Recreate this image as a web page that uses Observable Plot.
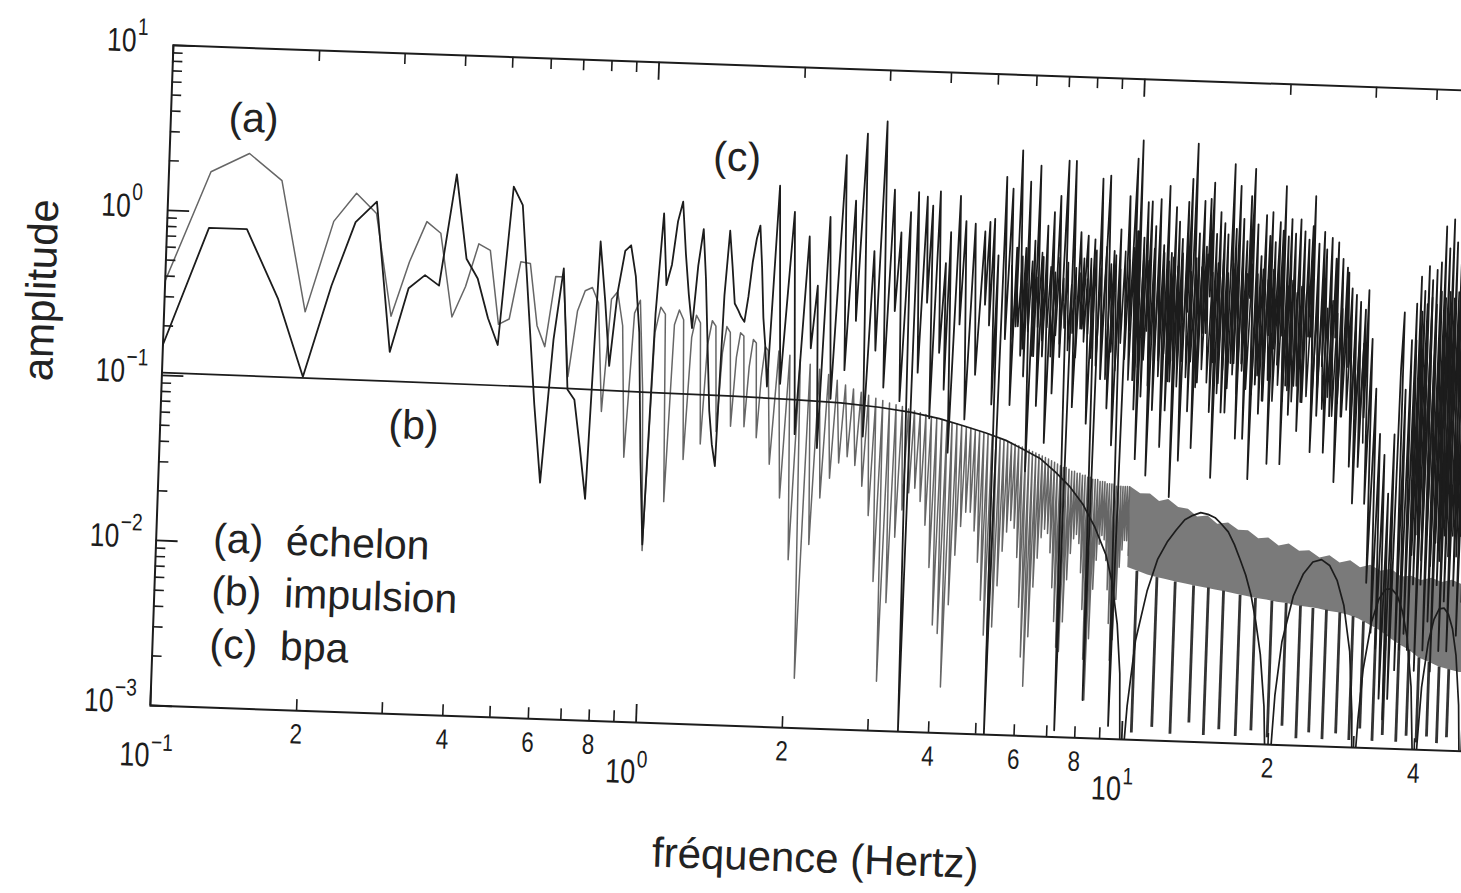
<!DOCTYPE html>
<html><head><meta charset="utf-8">
<script src="https://cdn.jsdelivr.net/npm/d3@7"></script>
<script src="https://cdn.jsdelivr.net/npm/@observablehq/plot@0.6"></script>
<style>
html,body{margin:0;padding:0;background:#fff;overflow:hidden;width:1461px;height:893px;}
#fig{position:absolute;left:0;top:0;width:1480px;height:893px;transform:rotate(2deg);transform-origin:802.5px 397.5px;}
#fig svg text{white-space:pre;}
</style></head><body><div id="fig"></div>
<script>
// ---------- DATA ----------
// DFT bins at low frequency (Hz)
const fBins = [0.098,0.122,0.146,0.171,0.195,0.220,0.244,0.269,0.293,0.317,
0.342,0.366,0.391,0.415,0.439,0.464,0.488,0.513,0.537,0.562,
0.586,0.610,0.635,0.659,0.684,0.708,0.732,0.757,0.781,0.806,
0.830,0.854,0.879,0.903,0.928,0.952,0.977,1.000,1.025,1.050,
1.074,1.099,1.123,1.147,1.172,1.196,1.221,1.245,1.270,1.294,
1.318,1.343,1.367,1.392,1.416,1.440,1.465,1.489,1.514,1.538,
1.563,1.587,1.611,1.636,1.660,1.685,1.709,1.733,1.758];
// (a) échelon, amplitude at those bins
const stepLow = [0.32,1.75,2.3,1.6,0.26,0.93,1.39,1.06,0.255,0.55,
0.97,0.83,0.26,0.40,0.73,0.67,0.24,0.26,0.58,0.57,
0.24,0.18,0.48,0.48,0.12,0.30,0.40,0.42,0.34,0.075,
0.36,0.40,0.25,0.04,0.30,0.36,0.10,0.011,0.23,0.33,
0.30,0.022,0.26,0.32,0.28,0.04,0.22,0.30,0.27,0.05,
0.20,0.28,0.26,0.06,0.18,0.26,0.24,0.065,0.17,0.24,
0.23,0.065,0.15,0.22,0.21,0.056,0.13,0.20,0.19];
// (c) bpa, amplitude at those bins
const bpaLow = [0.13,0.8,0.8,0.31,0.105,0.38,0.93,1.25,0.155,0.38,
0.46,0.40,1.9,0.59,0.45,0.26,0.18,1.65,1.28,0.3,
0.08,0.027,0.2,0.54,0.1,0.087,0.045,0.022,0.8,0.35,
0.142,0.4,0.71,0.77,0.5,0.23,0.04,0.012,0.3,1.22,
0.45,0.6,1.1,1.45,0.7,0.4,0.25,0.6,1.0,0.5,
0.2,0.08,0.05,0.037,0.4,0.99,0.6,0.36,0.33,0.3,
0.28,0.4,0.65,0.9,1.08,0.6,0.3,0.2,0.115];

// (a) échelon, 1.8–10 Hz comb [Hz, amplitude]
const stepComb = [
[1.80,0.039],[1.85,0.19],[1.90,0.0245],[1.95,0.18],[2.00,0.0104],[2.05,0.17],[2.10,0.002],[2.15,0.16],[2.20,0.013],[2.25,0.15],
[2.30,0.025],[2.35,0.14],[2.40,0.033],[2.45,0.13],[2.50,0.041],[2.55,0.122],[2.60,0.045],[2.65,0.116],[2.70,0.04],[2.75,0.111],
[2.80,0.03],[2.85,0.107],[2.90,0.02],[2.95,0.103],[3.00,0.008],[3.05,0.1],[3.10,0.002],[3.15,0.097],[3.20,0.006],[3.25,0.095],
[3.30,0.015],[3.35,0.093],[3.40,0.022],[3.45,0.09],[3.50,0.028],[3.55,0.088],[3.60,0.03],[3.65,0.086],[3.70,0.025],[3.75,0.084],
[3.80,0.018],[3.85,0.082],[3.90,0.01],[3.95,0.08],[4.00,0.0045],[4.05,0.079],[4.10,0.004],[4.15,0.077],[4.20,0.0019],[4.25,0.076],
[4.30,0.006],[4.35,0.075],[4.40,0.012],[4.45,0.073],[4.50,0.018],[4.55,0.072],[4.60,0.022],[4.65,0.071],[4.70,0.022],[4.75,0.069],
[4.80,0.017],[4.85,0.068],[4.90,0.011],[4.95,0.067],[5.00,0.0065],[5.05,0.066],[5.10,0.004],[5.15,0.064],[5.20,0.0025],[5.25,0.063],
[5.30,0.0045],[5.35,0.062],[5.40,0.008],[5.45,0.061],[5.50,0.013],[5.55,0.06],[5.60,0.017],[5.65,0.059],[5.70,0.02],[5.75,0.058],
[5.80,0.018],[5.85,0.057],[5.90,0.012],[5.95,0.056],[6.00,0.006],[6.05,0.055],[6.10,0.003],[6.15,0.054],[6.20,0.002],[6.25,0.053],
[6.30,0.004],[6.35,0.052],[6.40,0.008],[6.45,0.051],[6.50,0.012],[6.55,0.05],[6.60,0.016],[6.65,0.049],[6.70,0.018],[6.75,0.048],
[6.80,0.017],[6.85,0.047],[6.90,0.013],[6.95,0.046],[7.00,0.008],[7.05,0.045],[7.10,0.005],[7.15,0.044],[7.20,0.0035],[7.25,0.043],
[7.30,0.0033],[7.35,0.043],[7.40,0.005],[7.45,0.042],[7.50,0.009],[7.55,0.041],[7.60,0.013],[7.65,0.041],[7.70,0.016],[7.75,0.04],
[7.80,0.017],[7.85,0.04],[7.90,0.015],[7.95,0.039],[8.00,0.01],[8.05,0.039],[8.10,0.006],[8.15,0.038],[8.20,0.003],[8.25,0.038],
[8.30,0.0017],[8.35,0.037],[8.40,0.004],[8.45,0.037],[8.50,0.008],[8.55,0.037],[8.60,0.012],[8.65,0.036],[8.70,0.015],[8.75,0.036],
[8.80,0.017],[8.85,0.036],[8.90,0.016],[8.95,0.035],[9.00,0.012],[9.05,0.035],[9.10,0.008],[9.15,0.035],[9.20,0.005],[9.25,0.035],
[9.30,0.003],[9.35,0.034],[9.40,0.004],[9.45,0.034],[9.50,0.007],[9.55,0.034],[9.60,0.011],[9.65,0.034],[9.70,0.014],[9.75,0.034],
[9.80,0.016],[9.85,0.034],[9.90,0.016],[9.95,0.034],[10.00,0.013]];

// (a) échelon, 10–50 Hz dense band
const stepBandFreq = [10,10.5,11,11.5,12,12.6,13.2,13.8,14.5,15.2,16,16.8,17.6,18.5,19.4,20.4,21.4,22.5,23.6,24.8,26,27.3,28.7,30.1,31.6,33.2,34.9,36.6,38.4,40.3,42.3,44.4,46.6,48.9,50];
const stepBandTop = [0.034,0.031,0.031,0.028,0.029,0.026,0.0255,0.023,0.0235,0.021,0.0215,0.0195,0.0195,0.0175,0.0178,0.016,0.0165,0.015,0.0152,0.0138,0.0143,0.013,0.0135,0.0123,0.0128,0.0118,0.0122,0.011,0.0112,0.0106,0.011,0.0104,0.0108,0.0102,0.0104];
const stepBandLow = [0.011,0.0105,0.01,0.0097,0.0095,0.0092,0.009,0.0088,0.0086,0.0084,0.0082,0.008,0.0078,0.0076,0.0075,0.0073,0.0072,0.007,0.0069,0.0068,0.0066,0.0065,0.0063,0.006,0.0056,0.0052,0.0047,0.0043,0.004,0.0036,0.0034,0.0032,0.0031,0.003,0.003];
// (a) échelon, deep notches above 10 Hz
const stepToothFreq = [10.45,11.5,12.55,13.7,14.7,15.8,17.1,18.4,19.9,21.3,22.8,24.2,25.8,27.5,29.3,30.8,32.7,34.3,36.6,38.4,40.3,42.3,44.4,46.5];
const stepToothTop = [0.0105,0.0097,0.0092,0.0088,0.0086,0.0083,0.0079,0.0076,0.0074,0.0072,0.007,0.0068,0.0067,0.0065,0.0062,0.0058,0.0053,0.0049,0.0043,0.004,0.0036,0.0034,0.0032,0.0031];
const stepToothBottom = [0.0011,0.0012,0.0011,0.0013,0.0011,0.0012,0.0011,0.0012,0.0011,0.0013,0.0011,0.0012,0.0011,0.0012,0.0011,0.0013,0.0011,0.0012,0.0011,0.0012,0.0011,0.0012,0.0011,0.0012];

// (c) bpa, 1.8–50 Hz [Hz, amplitude]
const bpaDense = [
[1.81,1.9],[1.87,0.12],[1.95,1.33],[2.02,0.06],[2.10,0.95],[2.15,0.2],[2.20,0.48],[2.25,0.05],[2.31,1.26],[2.38,0.1],
[2.47,3.0],[2.53,0.15],[2.60,1.6],[2.65,0.3],[2.72,4.1],[2.79,0.06],[2.86,0.8],[2.92,0.2],[2.98,4.9],[3.05,0.12],
[3.12,1.9],[3.18,0.35],[3.24,1.05],[3.30,0.1],[3.38,1.4],[3.46,0.001],[3.50,1.86],[3.58,0.15],[3.65,1.75],[3.70,0.4],
[3.75,1.55],[3.81,0.08],[3.88,1.9],[3.95,0.2],[4.02,0.7],[4.06,0.12],[4.10,1.08],[4.18,0.05],[4.27,1.8],[4.33,0.3],
[4.40,1.27],[4.50,0.08],[4.60,1.23],[4.70,0.15],[4.82,1.11],[4.87,0.4],[4.93,1.27],[4.98,0.3],[5.04,1.33],[5.10,0.1],
[5.15,0.8],[5.20,0.001],[5.30,2.4],[5.38,0.25],[5.47,2.04],[5.56,0.1],[5.62,0.9],[5.65,0.3],[5.69,3.5],[5.80,0.2],
[5.87,0.9],[5.90,0.15],[5.94,2.27],[6.05,0.04],[6.12,1.0],[6.17,0.2],[6.22,2.85],[6.30,0.1],[6.38,0.8],[6.43,0.2],
[6.49,1.24],[6.58,0.06],[6.68,1.5],[6.77,0.12],[6.87,1.89],[6.98,0.2],[7.10,3.1],[7.25,0.0011],[7.35,3.1],[7.47,0.1],
[7.60,1.15],[7.73,0.3],[7.87,1.1],[8.00,0.08],[8.13,1.05],[8.25,0.0017],[8.36,2.45],[8.50,0.15],[8.67,2.57],[8.80,0.1],
[8.92,0.9],[9.05,0.06],[9.18,1.22],[9.35,0.0012],[9.53,1.95],[9.68,0.3],[9.84,3.3],[9.90,0.15],[9.95,1.2],[10.0,0.1],
[10.05,4.26],[10.15,0.05],[10.25,1.1],[10.32,0.12],[10.4,1.81],[10.5,0.3],[10.6,1.83],[10.7,0.04],[10.82,1.3],[10.92,0.1],
[11.05,1.9],[11.15,0.2],[11.27,1.0],[11.37,0.06],[11.5,2.29],[11.6,0.1],[11.7,0.9],[11.8,0.15],[11.9,1.71],[12.0,0.03],
[12.1,1.4],[12.2,0.2],[12.3,1.1],[12.45,0.05],[12.6,1.85],[12.7,0.4],[12.8,2.55],[12.9,0.1],[13.05,4.18],[13.2,0.06],
[13.32,1.2],[13.45,0.15],[13.6,1.89],[13.7,0.3],[13.8,1.0],[13.9,0.3],[14.0,1.95],[14.1,0.5],[14.2,2.45],[14.3,0.1],
[14.45,1.2],[14.55,0.04],[14.7,1.63],[14.85,0.15],[15.0,1.4],[15.12,0.1],[15.25,1.2],[15.4,0.1],[15.6,3.2],[15.72,0.2],
[15.85,1.3],[15.95,0.2],[16.1,2.37],[16.25,0.07],[16.4,1.5],[16.55,0.2],[16.7,1.1],[16.82,0.07],[16.95,2.07],[17.05,0.5],
[17.2,3.03],[17.35,0.04],[17.55,1.4],[17.7,0.15],[17.9,0.9],[18.05,0.1],[18.25,1.6],[18.4,0.12],[18.6,1.2],[18.7,0.3],
[18.8,1.67],[18.95,0.05],[19.1,1.1],[19.25,0.25],[19.5,1.46],[19.6,0.2],[19.8,1.3],[19.88,0.3],[19.95,2.42],[20.15,0.05],
[20.3,1.2],[20.45,0.15],[20.6,1.53],[20.8,0.1],[21.0,1.25],[21.25,0.15],[21.5,1.53],[21.7,0.08],[21.95,1.3],[22.15,0.12],
[22.4,1.16],[22.6,0.3],[22.8,1.4],[22.88,0.3],[22.96,2.13],[23.2,0.06],[23.5,1.1],[23.8,0.1],[24.1,1.3],[24.25,0.2],
[24.4,1.02],[24.7,0.06],[25.0,1.2],[25.3,0.1],[25.55,0.9],[25.7,0.3],[25.8,1.13],[26.1,0.04],[26.4,0.9],[26.7,0.1],
[27.0,0.8],[27.1,0.3],[27.2,0.745],[27.45,0.2],[27.7,0.6],[28.0,0.05],[28.3,0.55],[28.6,0.03],[28.9,0.5],[29.2,0.05],
[29.6,0.45],[29.8,0.1],[30.0,0.59],[30.3,0.03],[30.7,0.3],[31.0,0.01],[31.5,0.15],[31.9,0.005],[32.3,0.08],[32.7,0.004],
[33.1,0.06],[33.5,0.002],[33.9,0.035],[34.2,0.0015],[34.6,0.08],[34.9,0.002],[35.3,0.2],[35.6,0.44],[35.9,0.003],[36.2,0.15],
[36.6,0.004],[37.0,0.3],[37.3,0.005],[37.7,0.5],[38.0,0.004],[38.4,0.73],[38.7,0.01],[39.1,0.6],[39.4,0.003],[39.8,0.85],
[40.1,0.01],[40.5,0.7],[40.9,0.004],[41.3,0.81],[41.7,0.006],[42.1,0.9],[42.5,0.003],[42.9,1.49],[43.3,0.01],[43.7,1.1],
[44.1,0.004],[44.5,1.65],[44.9,0.008],[45.3,1.2],[45.8,0.004],[46.3,1.4],[46.8,0.01],[47.3,1.1],[47.8,0.005],[48.3,1.3],
[48.8,0.008],[49.3,1.0],[49.8,0.005]];
// (c) bpa, densely packed inner oscillations (dark core of the trace)
const bpaInner = [
[5.50,0.7],[5.57,0.25],[5.64,0.6],[5.71,0.3],[5.78,0.8],[5.85,0.22],[5.92,0.55],[5.99,0.28],[6.06,0.75],[6.13,0.2],
[6.20,0.6],[6.27,0.3],[6.34,0.85],[6.41,0.25],[6.48,0.55],[6.55,0.3],[6.62,0.7],[6.69,0.2],[6.76,0.65],[6.83,0.27],
[6.90,0.8],[6.97,0.24],[7.04,0.6],[7.11,0.3],[7.18,0.75],[7.25,0.22],[7.32,0.55],[7.39,0.28],[7.46,0.7],[7.53,0.2],
[7.60,0.65],[7.67,0.3],[7.74,0.8],[7.81,0.25],[7.88,0.6],[7.95,0.28],
[8.0,0.8],[8.1,0.2],[8.2,0.9],[8.3,0.18],[8.4,0.7],[8.5,0.25],[8.6,0.95],[8.7,0.15],[8.8,0.75],[8.9,0.22],
[9.0,0.85],[9.1,0.17],[9.2,0.7],[9.3,0.25],[9.4,0.9],[9.5,0.2],[9.6,0.8],[9.7,0.15],[9.8,0.95],[9.9,0.22],[10.0,0.75],
[10.13,0.18],[10.26,0.9],[10.39,0.2],[10.52,0.8],[10.65,0.14],[10.78,0.95],[10.91,0.2],[11.04,0.7],[11.17,0.16],[11.3,0.9],
[11.43,0.22],[11.56,0.8],[11.69,0.15],[11.82,0.85],[11.95,0.2],[12.08,0.75],[12.21,0.14],[12.34,0.9],[12.47,0.2],[12.6,0.8],
[12.73,0.16],[12.86,0.7],[12.99,0.2],
[13.17,0.85],[13.35,0.14],[13.53,0.75],[13.71,0.18],[13.89,0.9],[14.07,0.15],[14.25,0.7],[14.43,0.2],[14.61,0.8],[14.79,0.13],
[14.97,0.85],[15.15,0.18],[15.33,0.7],[15.51,0.14],[15.69,0.8],[15.87,0.17],[16.05,0.75],[16.23,0.13],[16.41,0.85],[16.59,0.18],
[16.77,0.7],[16.95,0.14],
[17.18,0.8],[17.41,0.13],[17.64,0.7],[17.87,0.17],[18.1,0.75],[18.33,0.12],[18.56,0.65],[18.79,0.16],[19.02,0.75],[19.25,0.12],
[19.48,0.6],[19.71,0.15],[19.94,0.7],[20.17,0.12],[20.4,0.6],[20.63,0.14],[20.86,0.65],[21.09,0.12],[21.32,0.55],[21.55,0.15],
[21.78,0.6],[22.01,0.12],
[22.3,0.55],[22.6,0.13],[22.9,0.6],[23.2,0.11],[23.5,0.5],[23.8,0.14],[24.1,0.55],[24.4,0.11],[24.7,0.45],[25.0,0.13],
[25.3,0.5],[25.6,0.1],[25.9,0.42],[26.2,0.12],[26.5,0.45],[26.8,0.1],[27.1,0.38],[27.4,0.11],[27.7,0.35],[28.0,0.09],
[28.3,0.33],[28.6,0.1],[28.9,0.3],[29.2,0.08],[29.5,0.28],[29.8,0.07]];
const bpaInnerHigh = [
[37.8,0.3],[38.25,0.015],[38.7,0.45],[39.15,0.02],[39.6,0.5],[40.05,0.014],[40.5,0.55],[40.95,0.02],[41.4,0.5],[41.85,0.013],
[42.3,0.6],[42.75,0.018],[43.2,0.55],[43.65,0.014],[44.1,0.6],[44.55,0.02],[45,0.55],[45.45,0.015],[45.9,0.6],[46.35,0.02],
[46.8,0.5],[47.25,0.015],[47.7,0.55],[48.15,0.02],[48.6,0.5],[49.05,0.015],[49.5,0.5],[49.95,0.02]];

// (b) impulsion [Hz, amplitude]
const impulse = [
[0.1,0.104],[0.3,0.103],[0.6,0.102],[1.0,0.1],[1.5,0.099],[2.0,0.097],[2.5,0.095],[3.0,0.091],[3.5,0.086],[4.0,0.08],
[4.5,0.073],[5.0,0.067],[5.5,0.061],[6.0,0.054],[6.5,0.048],[7.0,0.04],[7.5,0.033],[8.0,0.026],[8.5,0.019],[9.0,0.013],
[9.3,0.009],[9.6,0.005],[9.8,0.0025],[9.93,0.0008],[10.0,0.0005],[10.2,0.0016],[10.5,0.004],[11,0.008],[11.5,0.0125],[12,0.016],
[12.5,0.019],[13,0.022],[13.5,0.0235],[14,0.0245],[14.5,0.024],[15,0.023],[15.5,0.021],[16,0.019],[16.5,0.016],[17,0.013],
[17.5,0.0105],[18,0.008],[18.5,0.0055],[19,0.0035],[19.5,0.0017],[19.85,0.0006],[20.15,0.0006],[20.5,0.002],[21,0.0042],[22,0.008],
[23,0.011],[24,0.013],[25,0.0135],[26,0.0125],[27,0.0102],[28,0.0072],[29,0.0038],[29.6,0.0016],[29.9,0.0006],[30.1,0.0006],
[30.5,0.0015],[31,0.003],[32,0.0058],[33,0.008],[34,0.0092],[35,0.0093],[36,0.0085],[37,0.0068],[38,0.0047],[39,0.0024],
[39.6,0.001],[39.9,0.0005],[40.1,0.0005],[40.5,0.0011],[41,0.0024],[42,0.0045],[43,0.0062],[44,0.0072],[45,0.0073],[46,0.0067],
[47,0.0055],[48,0.0038],[49,0.0019],[49.6,0.0008],[50,0.0005]];

// axes
const xMajorTicks = [0.1,1,10];
const xMajorExp = ["\u22121","0","1"];
const xMinorTicks = [0.2,0.3,0.4,0.5,0.6,0.7,0.8,0.9,2,3,4,5,6,7,8,9,20,30,40];
const xLabelValues = [0.2,0.4,0.6,0.8,2,4,6,8,20,40];
const xLabelTexts = ["2","4","6","8","2","4","6","8","2","4"];
const yMajorTicks = [0.001,0.01,0.1,1,10];
const yMajorExp = ["\u22123","\u22122","\u22121","0","1"];
const yMinorTicks = [0.002,0.003,0.004,0.005,0.006,0.007,0.008,0.009,0.02,0.03,0.04,0.05,0.06,0.07,0.08,0.09,0.2,0.3,0.4,0.5,0.6,0.7,0.8,0.9,2,3,4,5,6,7,8,9];

// annotations
const curveLabels = ["(a)","(b)","(c)"];
const curveLabelF = [0.148,0.332,1.47];
const curveLabelAmp = [3.74,0.056,2.75];
const legendLines = ["(a)  échelon","(b)  impulsion","(c)  bpa"];
const legendF = [0.131,0.131,0.131];
const legendAmp = [0.0105,0.00505,0.00241];
const xTitle = "fréquence (Hertz)";
const yTitle = "amplitude";

// ---------- BUILD ----------
const W = 1480, H = 893, ML = 161, MT = 67, MR = 7.3, MB = 165.4;
const PW = W - ML - MR, PH = H - MT - MB;
const tickFont = "'Liberation Sans',Arial,sans-serif";
const sans = "'Liberation Sans',Arial,Helvetica,sans-serif";
const ink = "#1c1c1c";

const stepLine = fBins.map((f,i)=>({f, v: stepLow[i]})).concat(stepComb.map(([f,v])=>({f,v})));
const bpaLine = fBins.map((f,i)=>({f, v: bpaLow[i]})).concat(bpaDense.map(([f,v])=>({f,v})));
const bpaInnerLine = bpaInner.map(([f,v])=>({f,v}));
const bpaInnerHighLine = bpaInnerHigh.map(([f,v])=>({f,v}));
const impLine = impulse.map(([f,v])=>({f,v}));
const band = stepBandFreq.map((f,i)=>({f, lo: stepBandLow[i], hi: stepBandTop[i]}));
const teeth = stepToothFreq.map((f,i)=>({f, lo: stepToothBottom[i], hi: stepToothTop[i]}));

const tickLabel = {fontFamily: tickFont, fill: ink, className: "narrow"};

const chart = Plot.plot({
  width: W, height: H,
  marginLeft: ML, marginTop: MT, marginRight: MR, marginBottom: MB,
  x: {type: "log", domain: [0.1, 50], axis: null},
  y: {type: "log", domain: [0.001, 10], axis: null},
  style: {background: "#fff", color: ink, fontFamily: sans, overflow: "visible"},
  marks: [
    Plot.areaY(band, {x: "f", y1: "lo", y2: "hi", fill: "#7a7a7a", clip: true}),
    Plot.ruleX(teeth, {x: "f", y1: "lo", y2: "hi", stroke: "#333", strokeWidth: 2.8, clip: true}),
    Plot.line(stepLine, {x: "f", y: "v", stroke: "#666", strokeWidth: 1.5, clip: true}),
    Plot.line(bpaInnerLine, {x: "f", y: "v", stroke: ink, strokeWidth: 1.6, clip: true}),
    Plot.line(bpaInnerHighLine, {x: "f", y: "v", stroke: ink, strokeWidth: 1.6, clip: true}),
    Plot.line(bpaLine, {x: "f", y: "v", stroke: ink, strokeWidth: 1.8, clip: true}),
    Plot.line(impLine, {x: "f", y: "v", stroke: ink, strokeWidth: 1.7, clip: true}),
    Plot.frame({stroke: ink, strokeWidth: 2}),
    // x ticks (bottom and top, pointing inward)
    Plot.ruleX(xMinorTicks, {x: d => d, insetTop: PH - 11, stroke: ink, strokeWidth: 1.6}),
    Plot.ruleX(xMajorTicks, {x: d => d, insetTop: PH - 18, stroke: ink, strokeWidth: 1.8}),
    Plot.ruleX(xMinorTicks, {x: d => d, insetBottom: PH - 11, stroke: ink, strokeWidth: 1.6}),
    Plot.ruleX(xMajorTicks, {x: d => d, insetBottom: PH - 18, stroke: ink, strokeWidth: 1.8}),
    // y ticks (left, inward)
    Plot.ruleY(yMinorTicks, {y: d => d, insetRight: PW - 10, stroke: ink, strokeWidth: 1.6}),
    Plot.ruleY(yMajorTicks, {y: d => d, insetRight: PW - 22, stroke: ink, strokeWidth: 1.8}),
    // x tick labels
    Plot.text(xLabelValues, {x: d => d, text: (d, i) => xLabelTexts[i], frameAnchor: "bottom", lineAnchor: "middle", dy: 24, fontSize: 28, ...tickLabel}),
    Plot.text(xMajorTicks, {x: d => d, text: () => "10", frameAnchor: "bottom", textAnchor: "end", lineAnchor: "middle", dy: 50, dx: 1, fontSize: 34, ...tickLabel}),
    Plot.text(xMajorTicks, {x: d => d, text: (d, i) => xMajorExp[i], frameAnchor: "bottom", textAnchor: "start", lineAnchor: "middle", dy: 37, dx: 2, fontSize: 24, ...tickLabel}),
    // y tick labels
    Plot.text(yMajorTicks, {y: d => d, text: () => "10", frameAnchor: "left", textAnchor: "end", lineAnchor: "middle", dx: -37, dy: -3, fontSize: 33, ...tickLabel}),
    Plot.text(yMajorTicks, {y: d => d, text: (d, i) => yMajorExp[i], frameAnchor: "left", textAnchor: "start", lineAnchor: "middle", dx: -36, dy: -17, fontSize: 24, ...tickLabel}),
    // axis titles
    Plot.text([xTitle], {frameAnchor: "bottom", lineAnchor: "middle", dx: 14, dy: 130, fontSize: 42, fontFamily: sans, fill: "#222"}),
    Plot.text([yTitle], {frameAnchor: "left", lineAnchor: "middle", rotate: -90, dx: -123, dy: 10, fontSize: 42, fontFamily: sans, fill: "#222"}),
    // curve labels
    Plot.text(curveLabels, {x: (d, i) => curveLabelF[i], y: (d, i) => curveLabelAmp[i], lineAnchor: "middle", fontSize: 41, fontFamily: sans, fill: "#222"}),
    // legend
    Plot.text(legendLines, {x: (d, i) => legendF[i], y: (d, i) => legendAmp[i], textAnchor: "start", lineAnchor: "middle", fontSize: 41, fontFamily: sans, fill: "#222"})
  ]
});
// condensed look for the tick labels (the original uses a narrow typeface)
d3.select(chart).selectAll("g.narrow text").each(function() {
  const t = this.getAttribute("transform") || "";
  this.setAttribute("transform", t + " scale(0.8,1)");
});
document.getElementById("fig").appendChild(chart);
</script></body></html>
